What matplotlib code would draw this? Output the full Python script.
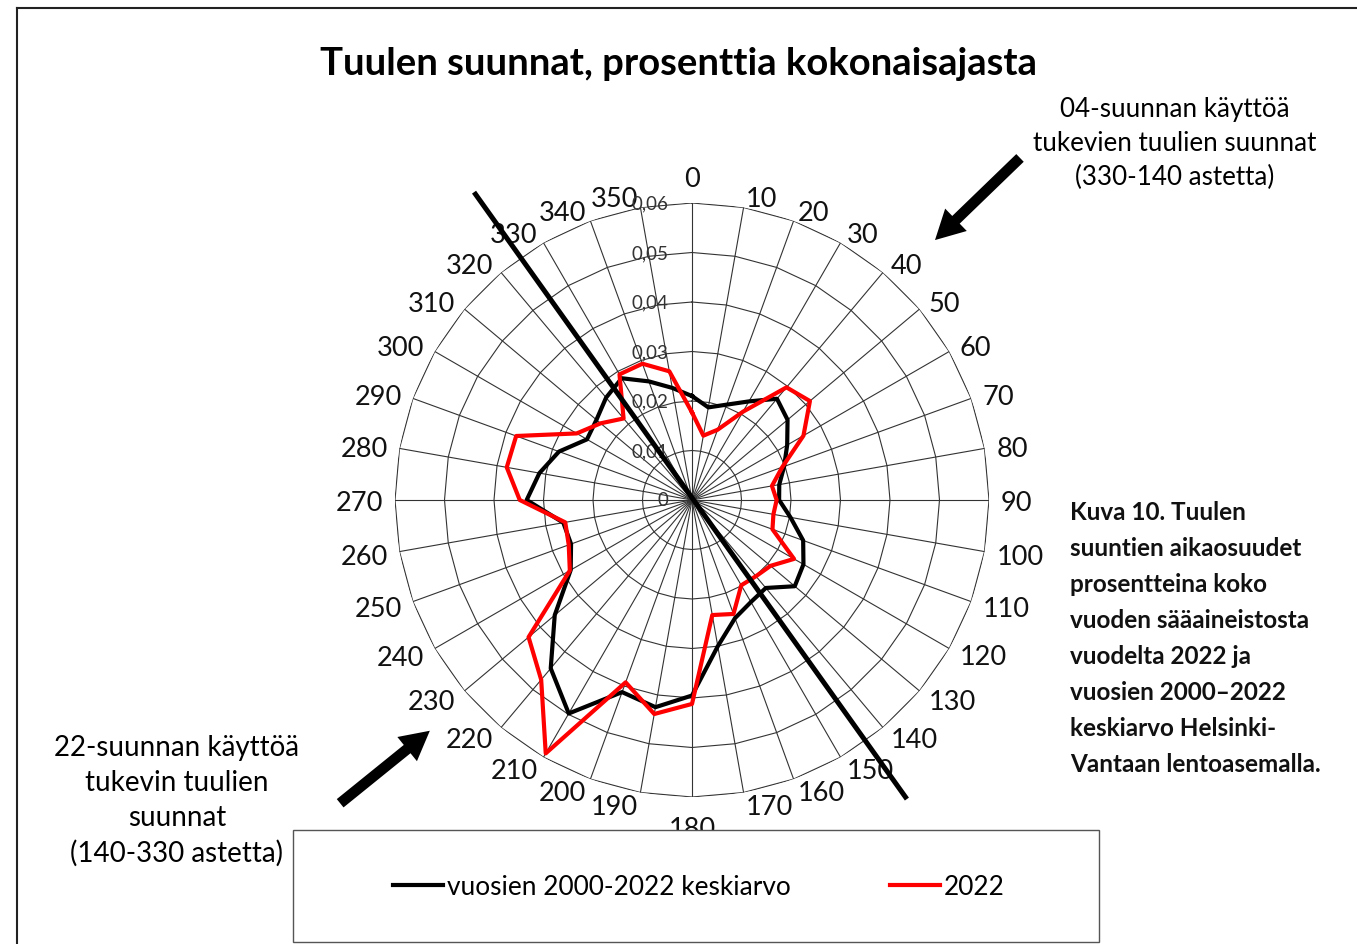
import numpy as np
import matplotlib.pyplot as plt
from matplotlib.patches import Rectangle
from matplotlib.lines import Line2D

plt.rcParams["font.family"] = ["Lato", "DejaVu Sans"]

# wind directions (degrees) and share of time
directions = list(range(0, 360, 10))
avg_2000_2022 = [0.0210, 0.0190, 0.0205, 0.0230, 0.0267, 0.0252, 0.0222, 0.0198, 0.0179,
                 0.0176, 0.0202, 0.0239, 0.0260, 0.0271, 0.0232, 0.0238, 0.0254, 0.0300,
                 0.0395, 0.0425, 0.0413, 0.0498, 0.0444, 0.0362, 0.0283, 0.0260, 0.0264,
                 0.0334, 0.0313, 0.0286, 0.0245, 0.0252, 0.0270, 0.0284, 0.0255, 0.0230]
year_2022 = [0.0177, 0.0132, 0.0151, 0.0206, 0.0297, 0.0311, 0.0260, 0.0194, 0.0164,
             0.0171, 0.0167, 0.0173, 0.0238, 0.0207, 0.0201, 0.0199, 0.0245, 0.0236,
             0.0412, 0.0439, 0.0392, 0.0591, 0.0474, 0.0431, 0.0285, 0.0265, 0.0260,
             0.0348, 0.0380, 0.0378, 0.0269, 0.0241, 0.0215, 0.0293, 0.0293, 0.0264]
radial_ticks = [0, 0.01, 0.02, 0.03, 0.04, 0.05, 0.06]
radial_labels = ["0", "0,01", "0,02", "0,03", "0,04", "0,05", "0,06"]
series_names = ["vuosien 2000-2022 keskiarvo", "2022"]

W, H = 1357, 945
fig = plt.figure(figsize=(W / 100, H / 100), dpi=100)

# polar axes: centre (692, 501) px, radius 297 px
cx, cy, R = 692, 501, 297
ax = fig.add_axes([(cx - R) / W, (H - cy - R) / H, 2 * R / W, 2 * R / H], projection="polar")
ax.set_theta_zero_location("N")
ax.set_theta_direction(-1)
ax.set_ylim(0, radial_ticks[-1])
ax.grid(False)
ax.set_xticks([])
ax.set_yticks([])
ax.spines["polar"].set_visible(False)
ax.patch.set_alpha(0)

th = np.deg2rad(directions + [360])

# polygon grid like a radar chart
for r in radial_ticks[1:]:
    ax.plot(th, [r] * len(th), color="#333333", lw=0.8, zorder=1)
for d in directions:
    ax.plot([np.deg2rad(d)] * 2, [0, radial_ticks[-1]], color="#333333", lw=0.8, zorder=1)

ax.plot(th, avg_2000_2022 + avg_2000_2022[:1], color="black", lw=3, zorder=3,
        label=series_names[0])
ax.plot(th, year_2022 + year_2022[:1], color="#ff0000", lw=3, zorder=4,
        label=series_names[1])

# runway 04/22 line
ax.plot(np.deg2rad([324.7, 144.3]), [0.0762, 0.0744], color="black", lw=3.6,
        zorder=5, clip_on=False, solid_capstyle="butt")

# direction labels, anchored just outside the rim
px = radial_ticks[-1] / R
for d in directions:
    s = np.sin(np.deg2rad(d))
    gap = 12
    if d == 0:
        ha, va = "center", "bottom"
    elif d == 180:
        ha, va, gap = "center", "top", 19
    else:
        ha = "left" if s > 0 else "right"
        va = "center_baseline"
    ax.text(np.deg2rad(d), (R + gap) * px, str(d), ha=ha, va=va, fontsize=19.5,
            color="#111111", clip_on=False)

# radial labels along the 0 spoke
for r, lbl in zip(radial_ticks, radial_labels):
    ax.annotate(lbl, xy=(0, r), xytext=(-24, 0), textcoords="offset pixels",
                ha="right", va="center", fontsize=13.5, color="#333333")

# title
fig.text(679 / W, 1 - 75 / H, "Tuulen suunnat, prosenttia kokonaisajasta", ha="center",
         va="baseline", fontsize=27.5, fontweight="bold")

# notes
for i, line in enumerate(["04-suunnan käyttöä", "tukevien tuulien suunnat", "(330-140 astetta)"]):
    fig.text(1175 / W, 1 - (110 + 33.5 * i) / H, line, ha="center", va="center", fontsize=18.7)
for i, line in enumerate(["22-suunnan käyttöä", "tukevin tuulien", "suunnat", "(140-330 astetta)"]):
    fig.text(177 / W, 1 - (748 + 35 * i) / H, line, ha="center", va="center", fontsize=20)

caption = ["Kuva 10. Tuulen", "suuntien aikaosuudet", "prosentteina koko",
           "vuoden sääaineistosta", "vuodelta 2022 ja", "vuosien 2000–2022",
           "keskiarvo Helsinki-", "Vantaan lentoasemalla."]
for i, line in enumerate(caption):
    fig.text(1070 / W, 1 - (513 + 36 * i) / H, line, ha="left", va="center",
             fontsize=17.5, fontweight="bold", color="#111111")

# arrows
arrow_kw = dict(arrowstyle="simple,head_width=1.6,head_length=1.5,tail_width=0.55",
                color="black", lw=0, mutation_scale=14)
ax.annotate("", xy=(933, H - 243), xytext=(1022, H - 157), xycoords="figure pixels",
            textcoords="figure pixels", arrowprops=arrow_kw, annotation_clip=False)
ax.annotate("", xy=(432, H - 730), xytext=(338, H - 806), xycoords="figure pixels",
            textcoords="figure pixels", arrowprops=arrow_kw, annotation_clip=False)

# outer frame (cropped on right and bottom)
fig.add_artist(Line2D([17 / W, 1], [1 - 9 / H] * 2, color="#222222", lw=1.5))
fig.add_artist(Line2D([17 / W] * 2, [0, 1 - 9 / H], color="#222222", lw=1.5))

# legend box
fig.add_artist(Rectangle((293 / W, 1 - 943 / H), (1099 - 293) / W, (943 - 831) / H,
                         facecolor="white", edgecolor="#555555", lw=1, zorder=5))
handles, labels = ax.get_legend_handles_labels()
leg = fig.legend(handles, labels, loc="center left", bbox_to_anchor=(393 / W, 1 - 888 / H),
                 ncol=2, frameon=False, fontsize=18.9, handlelength=1.9, handletextpad=0.15,
                 columnspacing=3.8, borderpad=0, borderaxespad=0)
leg.set_zorder(6)

fig.savefig("out.png", dpi=100)
